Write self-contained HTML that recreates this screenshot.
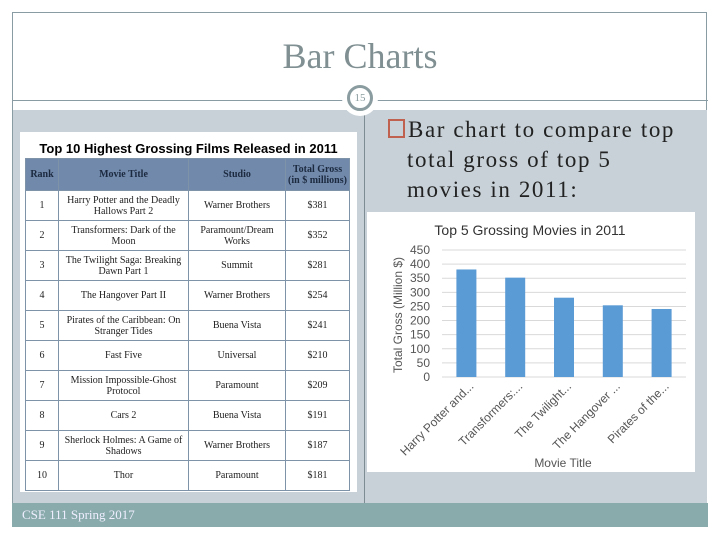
<!DOCTYPE html>
<html><head><meta charset="utf-8"><style>
body{margin:0;width:720px;height:540px;background:#fff;position:relative;overflow:hidden;font-family:"Liberation Serif",serif}
.abs{position:absolute}
table{border-collapse:collapse;font-family:"Liberation Serif",serif;font-size:10px;color:#222}
td{border:1px solid #7f93a8;text-align:center;padding:0;line-height:11px;height:29px;background:#fff}
th{background:#7189ab;color:#1c2a40;font-size:10px;line-height:11px;height:29px;border:1px solid #7f93a8}
</style></head><body>
<div class="abs" style="left:12px;top:12px;width:695px;height:514px;border:1px solid #8a9ca3;box-sizing:border-box"></div>
<div class="abs" style="left:0;top:35px;width:720px;text-align:center;font-size:36px;color:#7f8f92">Bar Charts</div>
<div class="abs" style="left:12px;top:100px;width:696px;height:1px;background:#8a9ca3"></div>
<div class="abs" style="left:13px;top:110px;width:694px;height:393px;background:#c7d1d7"></div>
<div class="abs" style="left:364px;top:110px;width:1px;height:393px;background:#7d8c93"></div>
<div class="abs" style="left:12px;top:503px;width:696px;height:24px;background:#89abab;color:#eef;font-size:13px;line-height:24px;text-indent:10px">CSE 111 Spring 2017</div>
<div class="abs" style="left:342px;top:80px;width:36px;height:36px;border-radius:50%;background:#fff;"><div style="position:absolute;left:5px;top:5px;width:20px;height:20px;border:3px solid #8a9c9f;border-radius:50%;font-size:11px;line-height:20px;text-align:center;color:#8a9c9f">15</div></div>
<div class="abs" style="left:388px;top:115px;width:330px;font-size:23px;letter-spacing:1.6px;line-height:30px;color:#222;white-space:nowrap"><span style="display:inline-block;width:13px;height:15px;border:2px solid #c0604f;margin-right:3px;vertical-align:-1px"></span>Bar chart to compare top<br><span style="padding-left:19px">total gross of top 5</span><br><span style="padding-left:19px">movies in 2011:</span></div>

<div class="abs" style="left:20px;top:132px;width:337px;height:360px;background:#fff"></div>
<div class="abs" style="left:20px;top:141px;width:337px;text-align:center;font-family:'Liberation Sans',sans-serif;font-weight:bold;font-size:13px">Top 10 Highest Grossing Films Released in 2011</div>
<table class="abs" style="left:25px;top:158px;width:325px">
<tr><th style="width:30px">Rank</th><th style="width:127px">Movie Title</th><th style="width:94px">Studio</th><th>Total Gross<br>(in $ millions)</th></tr>
<tr><td>1</td><td>Harry Potter and the Deadly Hallows Part 2</td><td>Warner Brothers</td><td>$381</td></tr>
<tr><td>2</td><td>Transformers: Dark of the Moon</td><td>Paramount/Dream Works</td><td>$352</td></tr>
<tr><td>3</td><td>The Twilight Saga: Breaking Dawn Part 1</td><td>Summit</td><td>$281</td></tr>
<tr><td>4</td><td>The Hangover Part II</td><td>Warner Brothers</td><td>$254</td></tr>
<tr><td>5</td><td>Pirates of the Caribbean: On Stranger Tides</td><td>Buena Vista</td><td>$241</td></tr>
<tr><td>6</td><td>Fast Five</td><td>Universal</td><td>$210</td></tr>
<tr><td>7</td><td>Mission Impossible-Ghost Protocol</td><td>Paramount</td><td>$209</td></tr>
<tr><td>8</td><td>Cars 2</td><td>Buena Vista</td><td>$191</td></tr>
<tr><td>9</td><td>Sherlock Holmes: A Game of Shadows</td><td>Warner Brothers</td><td>$187</td></tr>
<tr><td>10</td><td>Thor</td><td>Paramount</td><td>$181</td></tr>
</table>

<svg class="abs" style="left:0;top:0" width="720" height="540" id="chart"></svg>
<script>
const categories=["Harry Potter and...","Transformers:...","The Twilight...","The Hangover ...","Pirates of the..."];
const values=[381,352,281,254,241];
const ticks=[0,50,100,150,200,250,300,350,400,450];
const svg=document.getElementById('chart');
const NS='http://www.w3.org/2000/svg';
function mk(t,a,txt){const e=document.createElementNS(NS,t);for(const k in a)e.setAttribute(k,a[k]);if(txt!==undefined)e.textContent=txt;svg.appendChild(e);return e;}
const y0=377,y1=250,x0=442,x1=686,ymax=450;
const Y=v=>y0-(v/ymax)*(y0-y1);
const band=(x1-x0)/categories.length;
const X=i=>x0+band*(i+0.5);
let e=mk('rect',{x:367,y:212,width:328,height:260,fill:'#fff'});


e=mk('text',{x:530,y:235,'text-anchor':'middle','font-family':'Liberation Sans,sans-serif','font-size':14,fill:'#333'},'Top 5 Grossing Movies in 2011');


ticks.forEach(t=>{
  const g=mk('line',{x1:x0,x2:x1,y1:Y(t),y2:Y(t),stroke:'#d9d9d9','stroke-width':1});
  
  
  const l=mk('text',{x:430,y:Y(t)+4,'text-anchor':'end','font-family':'Liberation Sans,sans-serif','font-size':12,fill:'#555'},t);
  
  
});
values.forEach((v,i)=>{
  const b=mk('rect',{x:X(i)-10,y:Y(v),width:20,height:y0-Y(v),fill:'#5b9bd5'});
  
  
  const c=mk('text',{x:X(i)+8,y:y0+10,'text-anchor':'end','font-family':'Liberation Sans,sans-serif','font-size':12,fill:'#555',transform:`rotate(-45 ${X(i)+8} ${y0+10})`},categories[i]);
  
  
});
e=mk('text',{x:0,y:0,'text-anchor':'middle','font-family':'Liberation Sans,sans-serif','font-size':12,fill:'#555',transform:'translate(402,315) rotate(-90)'},'Total Gross (Million $)');


e=mk('text',{x:563,y:467,'text-anchor':'middle','font-family':'Liberation Sans,sans-serif','font-size':12,fill:'#555'},'Movie Title');


</script>
</body></html>
